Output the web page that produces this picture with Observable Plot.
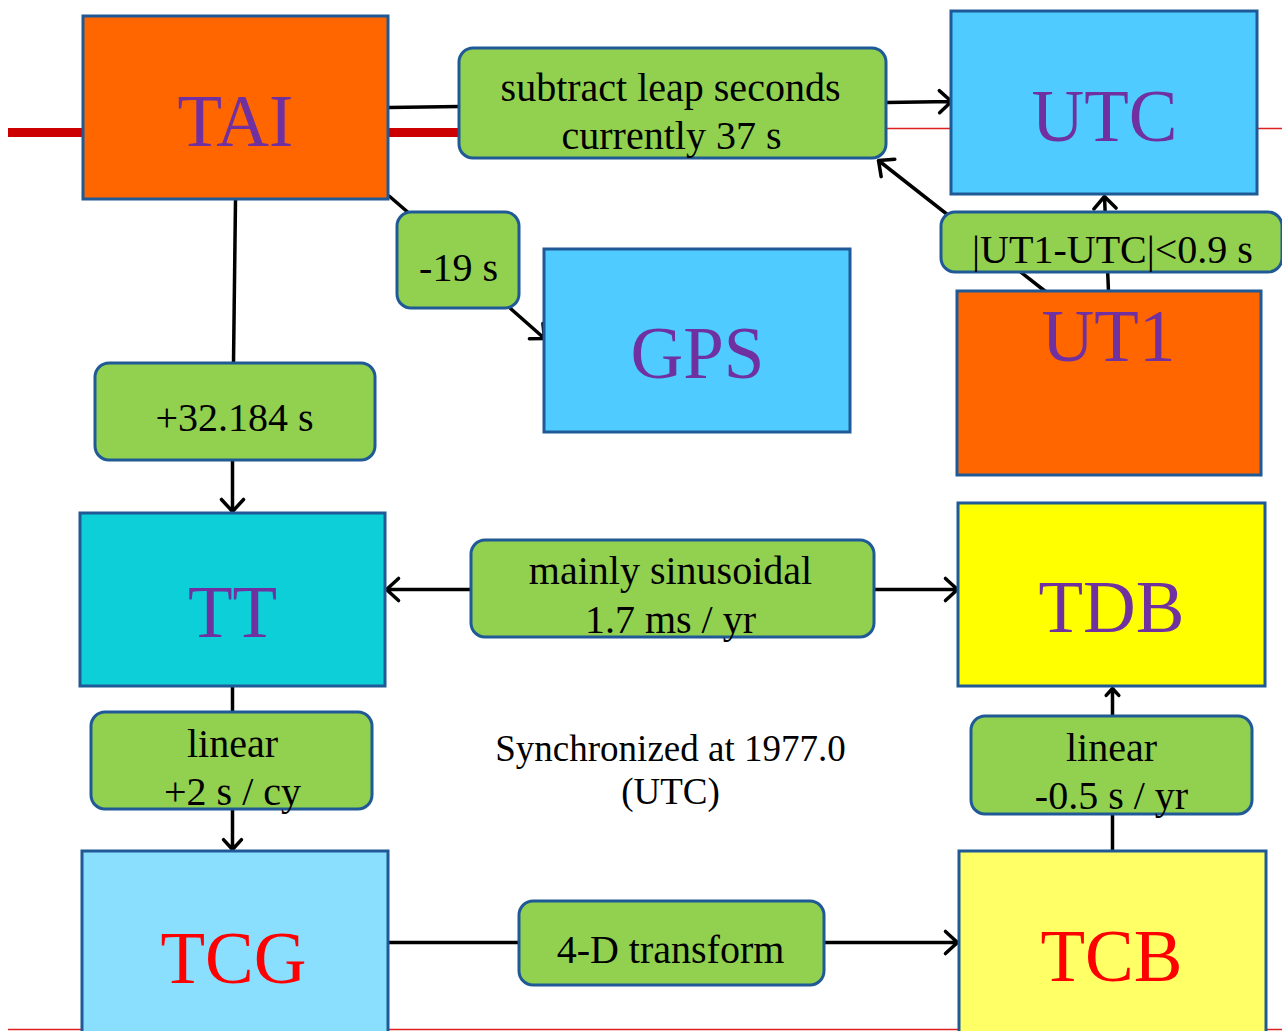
<!DOCTYPE html>
<html>
<head>
<meta charset="utf-8">
<script src="https://cdn.jsdelivr.net/npm/d3@7"></script>
<script src="https://cdn.jsdelivr.net/npm/@observablehq/plot@0.6"></script>
<style>
  html, body { margin: 0; padding: 0; background: #fff; overflow: hidden; }
  #chart svg { display: block; }
</style>
</head>
<body>
<div id="chart"></div>
<script>
// ---- Time-scale nodes (diagram layout units) ----
const nodeNames = ["TAI", "UTC", "GPS", "UT1", "TT", "TDB", "TCG", "TCB"];
const nodeLeft   = [83, 951, 544, 957, 80, 958, 82, 959];
const nodeRight  = [388, 1257, 850, 1261, 385, 1265, 388, 1266];
const nodeTop    = [16, 11, 249, 291, 513, 503, 851, 851];
const nodeBottom = [199, 194, 432, 475, 686, 686, 1045, 1045];
const nodeLabelX = [235, 1104, 697, 1108, 232, 1111, 233, 1111];
const nodeLabelY = [145, 140, 377, 360, 636, 631, 982, 980];
const nodeKind   = ["atomic", "civil", "civil", "atomic", "terrestrial", "dynamical", "geocentric", "barycentric"];

// ---- Relation boxes ----
const relLeft   = [459, 397, 941, 95, 471, 91, 971, 519];
const relRight  = [886, 519, 1282, 375, 874, 372, 1252, 824];
const relTop    = [48, 212, 212, 363, 540, 712, 716, 901];
const relBottom = [158, 308, 272, 460, 637, 809, 814, 985];

// relation text lines: text, x, baseline y, kind
const relLines  = ["subtract leap seconds", "currently 37 s", "-19 s", "|UT1-UTC|<0.9 s", "+32.184 s",
                   "mainly sinusoidal", "1.7 ms / yr", "linear", "+2 s / cy", "linear", "-0.5 s / yr", "4-D transform",
                   "Synchronized at 1977.0", "(UTC)"];
const relLineX  = [670, 671, 458, 1112, 234, 670, 670, 232, 232, 1111, 1111, 670, 670, 670];
const relLineY  = [100, 148, 280, 262, 430, 583, 632, 756, 804, 760, 808, 962, 760, 803];
const relLineKind = ["box", "box", "box", "box", "box", "box", "box", "box", "box", "box", "box", "box", "note", "note"];

// ---- Connectors ----
const linkX1 = [388, 388, 235, 232, 1112, 388];
const linkY1 = [107, 195, 199, 686, 851, 942];
const linkX2 = [459, 410, 233, 232, 1112, 519];
const linkY2 = [106, 214, 363, 712, 814, 942];

const arrowX1 = [886, 510, 232, 1108, 1045, 471, 874, 232, 1112, 824];
const arrowY1 = [102, 308, 460, 291, 291, 589, 589, 809, 716, 942];
const arrowX2 = [951, 544, 232, 1104, 878, 386, 957, 232, 1112, 957];
const arrowY2 = [101, 338, 511, 196, 160, 589, 589, 849, 688, 942];

// ---- Reference rules (red) ----
const ruleX1 = [8, 880, 8];
const ruleX2 = [470, 1282, 1282];
const ruleY  = [132, 128, 1029];
const ruleW  = ["thick", "thin", "thin"];

const kindFill = {
  atomic: "#FF6600", civil: "#4FCBFF", terrestrial: "#0CCFD8", dynamical: "#FFFF00",
  geocentric: "#8ADFFF", barycentric: "#FFFF66"
};
const kindText = {
  atomic: "#7030A0", civil: "#7030A0", terrestrial: "#7030A0", dynamical: "#7030A0",
  geocentric: "#FF0000", barycentric: "#FF0000"
};

const nodes = nodeNames.map((n, i) => ({
  name: n, x1: nodeLeft[i], x2: nodeRight[i], y1: nodeTop[i], y2: nodeBottom[i],
  lx: nodeLabelX[i], ly: nodeLabelY[i], kind: nodeKind[i]
}));
const rels = relLeft.map((v, i) => ({x1: v, x2: relRight[i], y1: relTop[i], y2: relBottom[i]}));
const lines = relLines.map((t, i) => ({t, x: relLineX[i], y: relLineY[i], kind: relLineKind[i]}));
const links = linkX1.map((v, i) => ({x1: v, y1: linkY1[i], x2: linkX2[i], y2: linkY2[i]}));
const arrows = arrowX1.map((v, i) => ({x1: v, y1: arrowY1[i], x2: arrowX2[i], y2: arrowY2[i]}));
const rules = ruleX1.map((v, i) => ({x1: v, x2: ruleX2[i], y: ruleY[i], w: ruleW[i]}));

const font = "'Liberation Serif', 'DejaVu Serif', serif";
const edge = "#1F5A96";

const chart = Plot.plot({
  width: 1282,
  height: 1031,
  margin: 0,
  style: {background: "#fff", fontFamily: font},
  x: {domain: [0, 1282], range: [0, 1282], axis: null},
  y: {domain: [0, 1031], range: [0, 1031], axis: null},
  marks: [
    Plot.ruleY(rules.filter(d => d.w === "thick"), {y: "y", x1: "x1", x2: "x2", stroke: "#CC0000", strokeWidth: 9}),
    Plot.ruleY(rules.filter(d => d.w === "thin"), {y: "y", x1: "x1", x2: "x2", stroke: "#DD2020", strokeWidth: 1.5}),
    Plot.link(links, {x1: "x1", y1: "y1", x2: "x2", y2: "y2", stroke: "#000", strokeWidth: 3.5}),
    Plot.arrow(arrows, {x1: "x1", y1: "y1", x2: "x2", y2: "y2", stroke: "#000", strokeWidth: 3.5, headLength: 7, headAngle: 85}),
    Plot.rect(nodes, {x1: "x1", x2: "x2", y1: "y1", y2: "y2", fill: d => kindFill[d.kind], stroke: edge, strokeWidth: 3}),
    Plot.rect(rels, {x1: "x1", x2: "x2", y1: "y1", y2: "y2", fill: "#92D050", stroke: edge, strokeWidth: 3, rx: 14}),
    Plot.text(nodes, {x: "lx", y: "ly", text: "name", fill: d => kindText[d.kind], fontSize: 73, lineAnchor: "bottom", fontFamily: font}),
    Plot.text(lines.filter(d => d.kind === "box"), {x: "x", y: "y", text: "t", fill: "#000", fontSize: 40, lineAnchor: "bottom", fontFamily: font}),
    Plot.text(lines.filter(d => d.kind === "note"), {x: "x", y: "y", text: "t", fill: "#000", fontSize: 37, lineAnchor: "bottom", fontFamily: font})
  ]
});
document.getElementById("chart").appendChild(chart);
</script>
</body>
</html>
